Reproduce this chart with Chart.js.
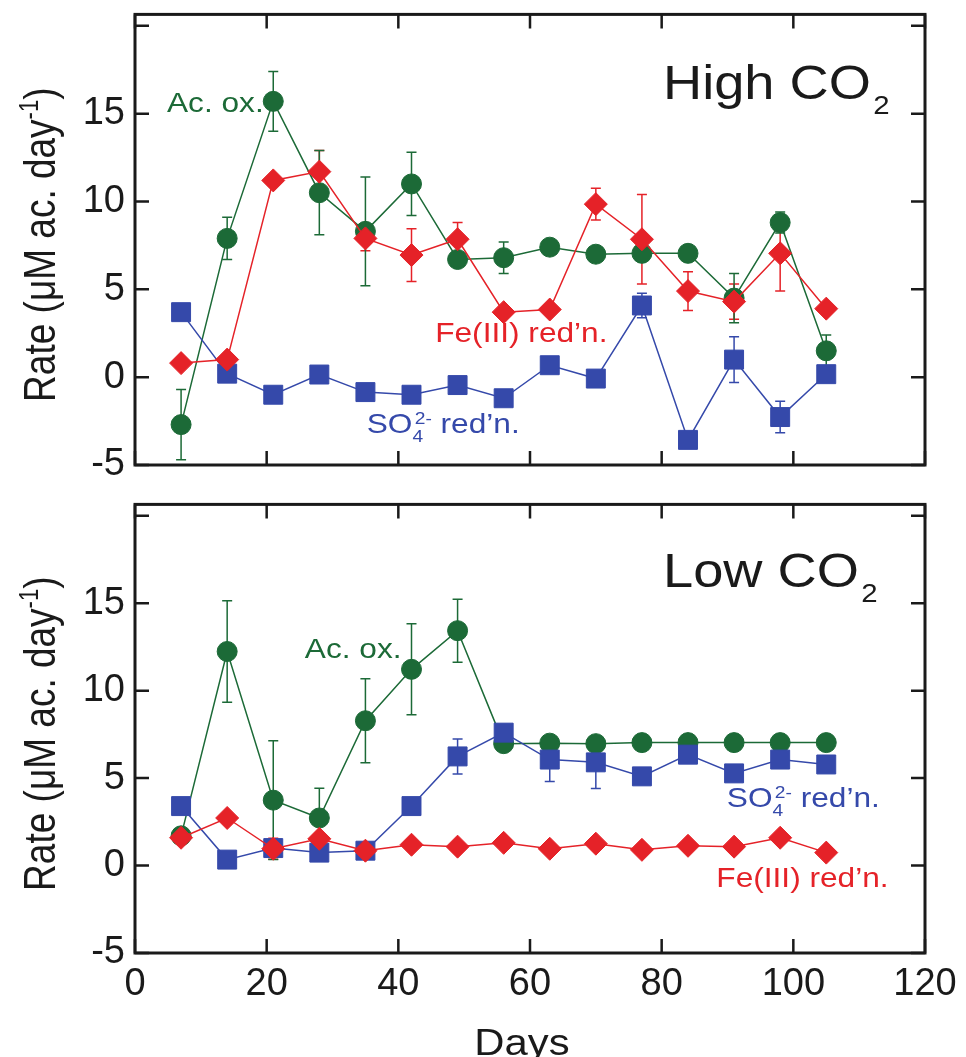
<!DOCTYPE html>
<html><head><meta charset="utf-8">
<script src="https://cdn.jsdelivr.net/npm/chart.js@4.4.1/dist/chart.umd.min.js"></script>
<style>
html,body{margin:0;padding:0;background:#fff;}
#wrap{position:relative;width:966px;height:1057px;overflow:hidden;background:#fff;}
.box{position:absolute;left:0;width:966px;}
canvas{display:block;}
</style></head><body>
<div id="wrap">
  <div class="box" style="top:0;height:490px"><canvas id="c1" width="966" height="490"></canvas></div>
  <div class="box" style="top:490px;height:567px"><canvas id="c2" width="966" height="567"></canvas></div>
</div>
<script>
// ---------- data ----------
const days = [7, 14, 21, 28, 35, 42, 49, 56, 63, 70, 77, 84, 91, 98, 105];
const xTicks = [0, 20, 40, 60, 80, 100, 120];
const yTicks = [-5, 0, 5, 10, 15, 20];

// High CO2 panel
const highAcOx    = [-2.7, 7.9, 15.7, 10.5, 8.3, 11.0, 6.7, 6.8, 7.4, 7.0, 7.05, 7.05, 4.5, 8.8, 1.5];
const highAcOxErr = [2.0, 1.2, 1.7, 2.4, 3.1, 1.8, 0, 0.9, 0, 0, 0, 0, 1.4, 0.6, 0.9];
const highFe      = [0.8, 1.0, 11.2, 11.7, 7.9, 6.95, 7.85, 3.7, 3.85, 9.85, 7.85, 4.9, 4.3, 7.05, 3.9];
const highFeErr   = [0, 0, 0, 1.2, 0.7, 1.5, 0.95, 0, 0, 0.9, 2.55, 1.1, 1.0, 2.15, 0];
const highSO4     = [3.7, 0.2, -1.0, 0.15, -0.85, -1.0, -0.45, -1.2, 0.68, -0.08, 4.08, -3.57, 1.0, -2.27, 0.17];
const highSO4Err  = [0, 0.3, 0, 0, 0, 0, 0, 0, 0, 0, 0.7, 0, 1.3, 0.9, 0];

// Low CO2 panel
const lowAcOx     = [1.7, 12.24, 3.74, 2.72, 8.28, 11.22, 13.43, 6.97, 7.0, 6.97, 7.03, 7.03, 7.03, 7.03, 7.03];
const lowAcOxErr  = [0, 2.9, 3.4, 1.7, 2.4, 2.6, 1.8, 0, 0, 0, 0, 0, 0, 0, 0];
const lowFe       = [1.59, 2.72, 0.96, 1.53, 0.85, 1.19, 1.08, 1.3, 0.96, 1.25, 0.9, 1.13, 1.08, 1.59, 0.74];
const lowFeErr    = [0, 0, 0.6, 0, 0, 0, 0, 0, 0, 0, 0, 0, 0, 0, 0];
const lowSO4      = [3.4, 0.34, 1.0, 0.74, 0.85, 3.4, 6.24, 7.6, 6.06, 5.9, 5.1, 6.34, 5.27, 6.06, 5.78];
const lowSO4Err   = [0, 0, 0, 0, 0, 0, 1.0, 0, 1.25, 1.5, 0, 0, 0, 0, 0];

// ---------- style ----------
const FONT = '"Liberation Sans", Arial, Helvetica, sans-serif';
const GREEN = '#1c6a37';
const RED = '#e52228';
const BLUE = '#3549aa';
const INK = '#1a1a1a';
const SX = 1.13;   // horizontal stretch of text in the original figure

function pts(vals) { return days.map((d, i) => ({x: d, y: vals[i]})); }

function drawRich(ctx, x, y, segs, color) {
  ctx.save();
  ctx.translate(x, y);
  ctx.scale(SX, 1);
  ctx.fillStyle = color;
  ctx.textBaseline = 'alphabetic';
  ctx.textAlign = 'left';
  let cx = 0;
  for (const s of segs) {
    ctx.font = s.size + 'px ' + FONT;
    if (s.sub !== undefined) {
      ctx.fillText(s.sub, cx, s.subDy);
      ctx.fillText(s.sup, cx + (s.supDx || 0), s.supDy);
      cx += Math.max(ctx.measureText(s.sub).width, (s.supDx || 0) + ctx.measureText(s.sup).width);
    } else {
      cx += (s.dx || 0);
      ctx.fillText(s.t, cx, s.dy || 0);
      cx += ctx.measureText(s.t).width;
    }
  }
  ctx.restore();
}

const LBL = 28;
function acOxSegs() { return [{t: 'Ac. ox.', size: LBL}]; }
function feSegs() { return [{t: 'Fe(III) red\u2019n.', size: LBL}]; }
function so4Segs() { return [{t: 'SO', size: LBL}, {sub: '4', sup: '2-', size: 17, subDy: 9, supDy: -9, supDx: 2}, {t: ' red\u2019n.', size: LBL}]; }
function co2Segs(word) { return [{t: word + ' CO', size: 48}, {t: '2', size: 26, dy: 15, dx: 2}]; }

function makePanel(canvasId, cfg) {
  const series = [
    {label: 'Fe(III) red\u2019n.', vals: cfg.fe, err: cfg.feErr, color: RED, style: 'rectRot', r: 11.5},
    {label: 'SO4 red\u2019n.', vals: cfg.so4, err: cfg.so4Err, color: BLUE, style: 'rect', r: 13.4},
    {label: 'Ac. ox.', vals: cfg.ac, err: cfg.acErr, color: GREEN, style: 'circle', r: 10}
  ];
  const panelPlugin = {
    id: 'panel_' + canvasId,
    beforeDatasetsDraw(chart) {
      const ctx = chart.ctx, xs = chart.scales.x, ys = chart.scales.y;
      ctx.save();
      ctx.lineWidth = 1.5;
      series.forEach(s => {
        ctx.strokeStyle = s.color;
        s.vals.forEach((v, i) => {
          const e = s.err[i];
          if (!e) return;
          const px = xs.getPixelForValue(days[i]);
          const pt = ys.getPixelForValue(v + e), pb = ys.getPixelForValue(v - e);
          ctx.beginPath();
          ctx.moveTo(px, pt); ctx.lineTo(px, pb);
          ctx.moveTo(px - 5, pt); ctx.lineTo(px + 5, pt);
          ctx.moveTo(px - 5, pb); ctx.lineTo(px + 5, pb);
          ctx.stroke();
        });
      });
      ctx.restore();
    },
    afterDraw(chart) {
      const ctx = chart.ctx, a = chart.chartArea, xs = chart.scales.x, ys = chart.scales.y;
      ctx.save();
      // inward tick marks
      ctx.strokeStyle = INK; ctx.lineWidth = 2.5;
      const TL = 14;
      ctx.beginPath();
      yTicks.forEach(v => {
        const py = ys.getPixelForValue(v);
        ctx.moveTo(a.left, py); ctx.lineTo(a.left + TL, py);
        ctx.moveTo(a.right, py); ctx.lineTo(a.right - TL, py);
      });
      xTicks.forEach(v => {
        const px = xs.getPixelForValue(v);
        ctx.moveTo(px, a.top); ctx.lineTo(px, a.top + TL);
        ctx.moveTo(px, a.bottom); ctx.lineTo(px, a.bottom - TL);
      });
      ctx.stroke();
      // frame
      ctx.lineWidth = 3;
      ctx.strokeRect(a.left, a.top, a.right - a.left, a.bottom - a.top);
      ctx.restore();

      // annotations
      cfg.notes.forEach(n => {
        drawRich(ctx, xs.getPixelForValue(n.x), ys.getPixelForValue(n.y), n.segs, n.color);
      });

      // y-axis title
      ctx.save();
      const cy = (a.top + a.bottom) / 2 + 5;
      ctx.translate(55, cy);
      ctx.rotate(-Math.PI / 2);
      ctx.scale(1, 1.22);
      ctx.fillStyle = INK;
      ctx.textBaseline = 'alphabetic';
      ctx.textAlign = 'left';
      const mainF = '37px ' + FONT, supF = '22px ' + FONT;
      const p1 = 'Rate (\u03bcM ac. day', p2 = '-1', p3 = ')';
      ctx.font = mainF; const w1 = ctx.measureText(p1).width, w3 = ctx.measureText(p3).width;
      ctx.font = supF; const w2 = ctx.measureText(p2).width;
      let x0 = -(w1 + w2 + w3) / 2;
      ctx.font = mainF; ctx.fillText(p1, x0, 0); x0 += w1;
      ctx.font = supF; ctx.fillText(p2, x0, -14); x0 += w2;
      ctx.font = mainF; ctx.fillText(p3, x0, 0);
      ctx.restore();

      if (cfg.showX) {
        ctx.save();
        ctx.fillStyle = INK;
        ctx.font = '37px ' + FONT;
        ctx.textAlign = 'center';
        ctx.textBaseline = 'alphabetic';
        ctx.translate(522, chart.height - 2);
        ctx.scale(SX, 1);
        ctx.fillText('Days', 0, 0);
        ctx.restore();
      }
    }
  };

  return new Chart(document.getElementById(canvasId), {
    type: 'line',
    data: {
      datasets: series.map(s => ({
        label: s.label,
        data: pts(s.vals),
        borderColor: s.color,
        backgroundColor: s.color,
        borderWidth: 1.5,
        pointStyle: s.style,
        pointRadius: s.r,
        pointHoverRadius: s.r,
        pointBackgroundColor: s.color,
        pointBorderColor: s.color,
        pointBorderWidth: 1,
        tension: 0,
        clip: false
      }))
    },
    options: {
      responsive: false,
      animation: false,
      events: [],
      layout: {padding: {top: cfg.padTop, right: 41, left: 0, bottom: 0}},
      plugins: {legend: {display: false}, tooltip: {enabled: false}},
      scales: {
        x: {
          type: 'linear', min: 0, max: 120,
          grid: {display: false, drawTicks: false},
          border: {display: false},
          ticks: {
            display: cfg.showX, stepSize: 20, maxRotation: 0, autoSkip: false,
            color: INK, padding: 13, font: {family: FONT, size: 38, lineHeight: 1}
          },
          afterFit(s) { s.height = cfg.xH; s.paddingLeft = 0; s.paddingRight = 0; }
        },
        y: {
          type: 'linear', min: -5, max: 20.65,
          grid: {display: false, drawTicks: false},
          border: {display: false},
          ticks: {
            stepSize: 5, includeBounds: false, color: INK, padding: 10,
            font: {family: FONT, size: 38, lineHeight: 1},
            callback: v => (v <= 15 ? String(v) : '')
          },
          afterFit(s) { s.width = 135; s.paddingTop = 0; s.paddingBottom = 0; }
        }
      }
    },
    plugins: [panelPlugin]
  });
}

makePanel('c1', {
  ac: highAcOx, acErr: highAcOxErr, fe: highFe, feErr: highFeErr, so4: highSO4, so4Err: highSO4Err,
  padTop: 13, xH: 25, showX: false,
  notes: [
    {x: 4.86, y: 15.1, segs: acOxSegs(), color: GREEN},
    {x: 80.2, y: 15.85, segs: co2Segs('High'), color: INK},
    {x: 45.6, y: 1.98, segs: feSegs(), color: RED},
    {x: 35.2, y: -3.17, segs: so4Segs(), color: BLUE}
  ]
});

makePanel('c2', {
  ac: lowAcOx, acErr: lowAcOxErr, fe: lowFe, feErr: lowFeErr, so4: lowSO4, so4Err: lowSO4Err,
  padTop: 10, xH: 104, showX: true,
  notes: [
    {x: 80.2, y: 15.93, segs: co2Segs('Low'), color: INK},
    {x: 25.8, y: 11.85, segs: acOxSegs(), color: GREEN},
    {x: 89.9, y: 3.34, segs: so4Segs(), color: BLUE},
    {x: 88.3, y: -1.25, segs: feSegs(), color: RED}
  ]
});
</script>
</body></html>
